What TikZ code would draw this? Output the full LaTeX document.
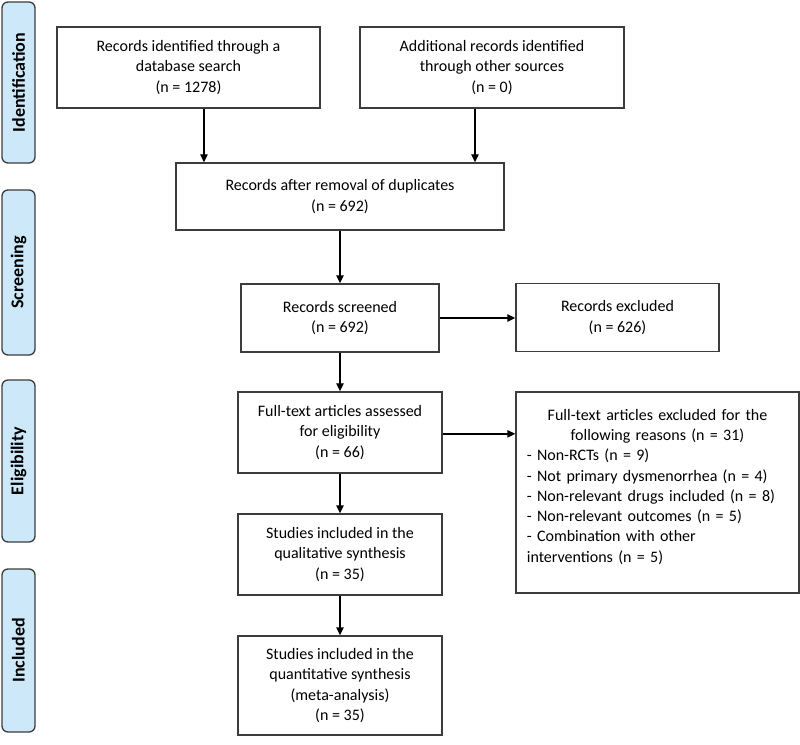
\documentclass[tikz,border=0pt]{standalone}
\usepackage{fontspec}
\setmainfont{Carlito}
\usepackage{xcolor}
\usetikzlibrary{arrows.meta,positioning}
\definecolor{tabblue}{RGB}{205,232,249}
\definecolor{edgegray}{RGB}{60,60,60}

\begin{document}
\begin{tikzpicture}[
    x=0.75pt, y=-0.75pt,
    box/.style={draw=edgegray, line width=1pt, align=center, inner sep=2pt, font=\fontsize{12}{15.2}\selectfont},
    phase/.style={draw=edgegray, line width=1pt, rounded corners=4.5pt, fill=tabblue, rotate=90, minimum height=24.75pt, inner sep=0pt, font=\fontsize{13.5}{16}\selectfont\bfseries},
    arrow/.style={-{Triangle[length=6pt,width=5.5pt]}, line width=1pt, draw=black}
]
    \useasboundingbox (0,0) rectangle (800,745);

    % phase tabs
    \node[phase, minimum width=120.75pt] (idtab) at (18.5,82.5) {Identification};
    \node[phase, minimum width=123.75pt] (screentab) at (18.5,272.5) {Screening};
    \node[phase, minimum width=121.5pt] (eligtab) at (18.5,461) {Eligibility};
    \node[phase, minimum width=122.25pt] (incltab) at (18.5,650.5) {Included};

    % flow boxes
    \node[box, minimum width=197.25pt, minimum height=60.75pt] (search) at (188.5,67.5) {Records identified through a\\database search\\(n = 1278)};
    \node[box, minimum width=198pt, minimum height=60.75pt] (other) at (492,67.5) {Additional records identified\\through other sources\\(n = 0)};
    \node[box, minimum width=246pt, minimum height=50.25pt] (dedup) at (340,196.5) {Records after removal of duplicates\\(n = 692)};
    \node[box, minimum width=148.5pt, minimum height=51pt] (screened) at (340,318) {Records screened\\(n = 692)};
    \node[box, minimum width=152.25pt, minimum height=51pt] (excluded) at (617.5,317.5) {Records excluded\\(n = 626)};
    \node[box, minimum width=153pt, minimum height=60.75pt] (fulltext) at (340,432.5) {Full-text articles assessed\\for eligibility\\(n = 66)};
    \node[box, minimum width=212.25pt, minimum height=150.75pt, text width=196pt, align=left] (ftexcluded) at (657.5,492.5) {\centering Full-text articles excluded for the\\following reasons (n = 31)\par\raggedright
        - Non-RCTs (n = 9)\\
        - Not primary dysmenorrhea (n = 4)\\
        - Non-relevant drugs included (n = 8)\\
        - Non-relevant outcomes (n = 5)\\
        - Combination with other\\
        interventions (n = 5)\\[-5pt]\mbox{}};
    \node[box, minimum width=153pt, minimum height=60.75pt] (qualitative) at (340,554.5) {Studies included in the\\qualitative synthesis\\(n = 35)};
    \node[box, minimum width=153pt, minimum height=74.25pt] (quantitative) at (340,685.5) {Studies included in the\\quantitative synthesis\\(meta-analysis)\\(n = 35)};

    % connectors
    \draw[arrow] ([xshift=11.6pt]search.south) -- ([xshift=11.6pt]search.south |- dedup.north);
    \draw[arrow] ([xshift=-12.75pt]other.south) -- ([xshift=-12.75pt]other.south |- dedup.north);
    \draw[arrow] (dedup) -- (screened);
    \draw[arrow] (screened.east) -- (screened.east -| excluded.west);
    \draw[arrow] (screened) -- (fulltext);
    \draw[arrow] ([yshift=-1pt]fulltext.east) -- ([yshift=-1pt]fulltext.east -| ftexcluded.west);
    \draw[arrow] (fulltext) -- (qualitative);
    \draw[arrow] (qualitative) -- (quantitative);
\end{tikzpicture}
\end{document}
